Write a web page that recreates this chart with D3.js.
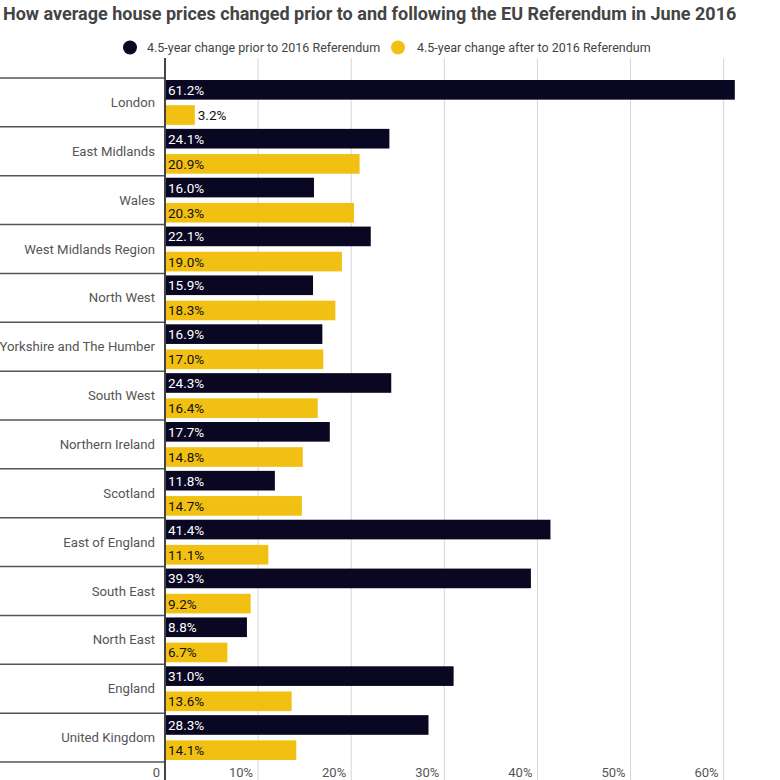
<!DOCTYPE html>
<html>
<head>
<meta charset="utf-8">
<script src="https://cdn.jsdelivr.net/npm/d3@7"></script>
<style>
  body { margin: 0; background: #fff; }
  svg { font-family: Roboto, "Noto Sans", sans-serif; }
</style>
</head>
<body>
<div id="chart"></div>
<script>
var regions = ["London", "East Midlands", "Wales", "West Midlands Region", "North West",
  "Yorkshire and The Humber", "South West", "Northern Ireland", "Scotland",
  "East of England", "South East", "North East", "England", "United Kingdom"];
var priorChange = [61.2, 24.1, 16.0, 22.1, 15.9, 16.9, 24.3, 17.7, 11.8, 41.4, 39.3, 8.8, 31.0, 28.3];
var afterChange = [3.2, 20.9, 20.3, 19.0, 18.3, 17.0, 16.4, 14.8, 14.7, 11.1, 9.2, 6.7, 13.6, 14.1];
var seriesNames = ["4.5-year change prior to 2016 Referendum", "4.5-year change after to 2016 Referendum"];
var seriesColors = ["#0a0722", "#f1c012"];
var tickValues = [0, 10, 20, 30, 40, 50, 60];

var width = 780, height = 780;

var svg = d3.select("#chart").append("svg")
    .attr("width", width)
    .attr("height", height);

var x = d3.scaleLinear().domain([0, 66]).range([165, 779.5]);
var y = d3.scaleBand().domain(regions).range([78, 762]);
var inner = d3.scaleBand().domain([0, 1]).range([0, y.bandwidth()])
    .paddingInner(0.22).paddingOuter(0.08);

// title
svg.append("text")
    .attr("x", 3).attr("y", 20)
    .attr("font-size", 18).attr("font-weight", 700)
    .attr("fill", "#444")
    .text("How average house prices changed prior to and following the EU Referendum in June 2016");

// legend
var legendPos = [{cx: 130, tx: 147}, {cx: 398, tx: 417}];
seriesNames.forEach(function (name, i) {
  svg.append("circle")
    .attr("cx", legendPos[i].cx).attr("cy", 47.5).attr("r", 7)
    .attr("fill", seriesColors[i]);
  svg.append("text")
    .attr("x", legendPos[i].tx).attr("y", 52)
    .attr("font-size", 12.5).attr("fill", "#444")
    .text(name);
});

// gridlines
svg.append("g")
  .selectAll("line")
  .data(tickValues.slice(1))
  .enter().append("line")
    .attr("x1", d => x(d)).attr("x2", d => x(d))
    .attr("y1", 58).attr("y2", 780)
    .attr("stroke", "#d6d6d6").attr("stroke-width", 1);

// tick labels
svg.append("g")
  .selectAll("text")
  .data(tickValues)
  .enter().append("text")
    .attr("x", d => x(d) - 5)
    .attr("y", 777)
    .attr("text-anchor", "end")
    .attr("font-size", 13).attr("fill", "#555")
    .text(d => d === 0 ? "0" : d + "%");

// category separators
svg.append("g")
  .selectAll("line")
  .data(regions.concat(["_end"]))
  .enter().append("line")
    .attr("x1", 0).attr("x2", 165)
    .attr("y1", (d, i) => i < regions.length ? y(d) : y.range()[1])
    .attr("y2", (d, i) => i < regions.length ? y(d) : y.range()[1])
    .attr("stroke", "#555").attr("stroke-width", 1.5);

// category labels
svg.append("g")
  .selectAll("text")
  .data(regions)
  .enter().append("text")
    .attr("x", 155)
    .attr("y", d => y(d) + y.bandwidth() / 2 + 4.5)
    .attr("text-anchor", "end")
    .attr("font-size", 13.2).attr("fill", "#555")
    .text(d => d);

// bars
var rows = regions.map(function (r, i) {
  return {region: r, values: [priorChange[i], afterChange[i]]};
});

var groups = svg.append("g")
  .selectAll("g")
  .data(rows)
  .enter().append("g")
    .attr("transform", d => "translate(0," + y(d.region) + ")");

groups.selectAll("rect")
  .data(d => d.values.map((v, k) => ({v: v, k: k})))
  .enter().append("rect")
    .attr("x", x(0))
    .attr("y", d => inner(d.k))
    .attr("width", d => x(d.v) - x(0))
    .attr("height", inner.bandwidth())
    .attr("fill", d => seriesColors[d.k]);

groups.selectAll("text")
  .data(d => d.values.map((v, k) => ({v: v, k: k})))
  .enter().append("text")
    .attr("x", function (d) {
      var w = x(d.v) - x(0);
      return w < 40 ? x(d.v) + 3 : x(0) + 3;
    })
    .attr("y", d => inner(d.k) + inner.bandwidth() / 2 + 5)
    .attr("font-size", 13.5).attr("font-weight", 400)
    .attr("fill", function (d) {
      var w = x(d.v) - x(0);
      if (w < 40) return "#111";
      return d.k === 0 ? "#fff" : "#111";
    })
    .text(d => d.v.toFixed(1) + "%");

// y axis line
svg.append("line")
    .attr("x1", 165).attr("x2", 165)
    .attr("y1", 58).attr("y2", 780)
    .attr("stroke", "#444").attr("stroke-width", 2);
</script>
</body>
</html>
